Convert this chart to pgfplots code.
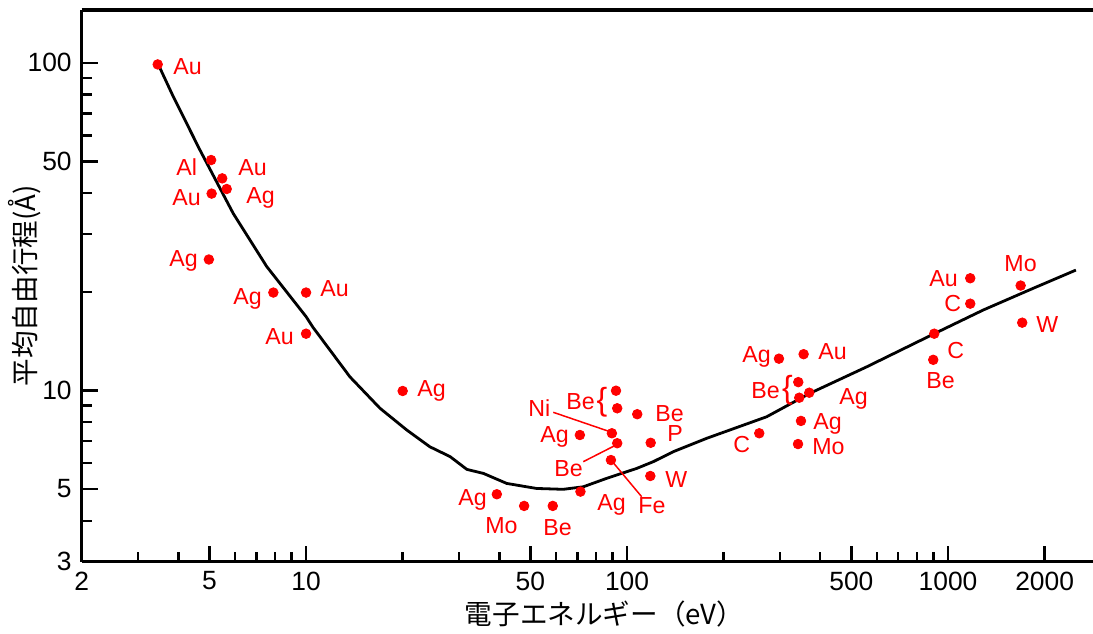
\documentclass[border=0pt]{standalone}
\usepackage{fontspec}
\setmainfont{Liberation Sans}
\newfontfamily\jp{Noto Sans CJK JP}
\usepackage{pgfplots}
\usepackage{pgfplotstable}
\pgfplotsset{compat=1.18}
\tikzset{lbl/.style={text=red, anchor=base west, inner sep=0pt, font=\fontsize{11.6}{12}\selectfont}}
\newcommand{\tl}[1]{\mbox{\fontsize{13.2}{14}\selectfont #1}}

\pgfplotstableread{
x y
3.45 98.9
5.06 50.5
5.48 44.4
5.66 41.2
5.08 39.9
4.98 25.1
7.91 19.9
10.0 19.9
10.0 14.9
20.0 9.96
92.4 9.98
93.2 8.82
107.6 8.46
89.7 7.40
71.3 7.31
93.2 6.90
118.5 6.92
89.1 6.13
118.2 5.48
71.6 4.91
39.3 4.82
47.8 4.44
58.7 4.44
297.4 12.5
355 12.9
341.6 10.6
344 9.50
369.6 9.84
348.3 8.07
341 6.86
258.2 7.40
906 14.9
899.5 12.4
1173 22.0
1173 18.4
1684 20.9
1703 16.1
}\dotdata

\pgfplotstableread{
x y
3.51 96.2
3.86 78.8
4.67 54.2
5.93 34.7
7.54 23.9
10.0 16.8
10.5 15.6
13.7 11.0
17.0 8.82
20.6 7.57
24.3 6.73
28.1 6.28
31.7 5.74
35.7 5.58
42.2 5.20
52.3 5.02
63.3 4.99
73.1 5.08
86.4 5.39
107.2 5.78
120.7 6.06
139.3 6.50
177.0 7.14
272.3 8.31
371.4 9.80
557.8 11.8
906 14.9
1287.6 17.6
1843 20.5
2503 23.3
}\curvedata

\begin{document}
\begin{tikzpicture}
\begin{loglogaxis}[
  scale only axis, width=505.65pt, height=275.85pt,
  xmin=2, xmax=2830, ymin=3, ymax=145,
  axis x line*=box, axis y line*=left,
  xtick pos=bottom, ytick pos=left,
  xtick={2,5,10,50,100,500,1000,2000},
  xticklabels={\tl{2},\tl{5},\tl{10},\tl{50},\tl{100},\tl{500},\tl{1000},\tl{2000}},
  minor xtick={3,4,6,7,8,9,20,30,40,60,70,80,90,200,300,400,600,700,800,900},
  ytick={3,5,10,50,100},
  yticklabels={\tl{3},\tl{5},\tl{10},\tl{50},\tl{100}},
  minor ytick={4,6,7,8,9,20,30,40,60,70,80,90},
  tick align=inside,
  major tick length=8pt, minor tick length=5pt,
  tick style={black, line width=1.2pt},
  axis line style={black, line width=1.6pt},
  /pgf/number format/assume math mode=true,
  yticklabel style={xshift=-1.5pt},
  xticklabel style={yshift=-1.5pt},
  xlabel={\jp 電子エネルギー（eV）},
  ylabel={\jp 平均自由行程(Å)},
  xlabel style={font=\fontsize{13.8}{14}\selectfont, at={(axis description cs:0.5,0)}, anchor=base, yshift=-31.5pt, xshift=8.5pt},
  ylabel style={font=\fontsize{13.8}{14}\selectfont, at={(axis description cs:-0.0561,0.5)}, anchor=center},
  clip=false,
]
\addplot[black, line width=1.4pt, no markers] table {\curvedata};
\addplot[only marks, mark=*, mark size=2.4pt, red, mark options={draw=red, fill=red}] table {\dotdata};

\node[lbl] at (rel axis cs:0.0903,0.8822) {Au};
\node[lbl] at (rel axis cs:0.0932,0.7009) {Al};
\node[lbl] at (rel axis cs:0.1546,0.7009) {Au};
\node[lbl] at (rel axis cs:0.0893,0.6465) {Au};
\node[lbl] at (rel axis cs:0.1625,0.6484) {Ag};
\node[lbl] at (rel axis cs:0.0863,0.5342) {Ag};
\node[lbl] at (rel axis cs:0.1496,0.4653) {Ag};
\node[lbl] at (rel axis cs:0.2356,0.4798) {Au};
\node[lbl] at (rel axis cs:0.1813,0.3928) {Au};
\node[lbl] at (rel axis cs:0.3316,0.3003) {Ag};
\node[lbl] at (rel axis cs:0.4789,0.2750) {Be};
\node[lbl] at (rel axis cs:0.4413,0.2623) {Ni};
\node[lbl] at (rel axis cs:0.5669,0.2550) {Be};
\node[lbl] at (rel axis cs:0.4532,0.2152) {Ag};
\node[lbl] at (rel axis cs:0.5788,0.2170) {P};
\node[lbl] at (rel axis cs:0.4670,0.1553) {Be};
\node[lbl] at (rel axis cs:0.5501,0.0865) {Fe};
\node[lbl] at (rel axis cs:0.5768,0.1336) {W};
\node[lbl] at (rel axis cs:0.5095,0.0937) {Ag};
\node[lbl] at (rel axis cs:0.3721,0.1010) {Ag};
\node[lbl] at (rel axis cs:0.3988,0.0520) {Mo};
\node[lbl] at (rel axis cs:0.4561,0.0466) {Be};
\node[lbl] at (rel axis cs:0.6529,0.3602) {Ag};
\node[lbl] at (rel axis cs:0.7281,0.3674) {Au};
\node[lbl] at (rel axis cs:0.6618,0.2967) {Be};
\node[lbl] at (rel axis cs:0.7488,0.2858) {Ag};
\node[lbl] at (rel axis cs:0.7231,0.2405) {Ag};
\node[lbl] at (rel axis cs:0.7221,0.1934) {Mo};
\node[lbl] at (rel axis cs:0.6440,0.1988) {C};
\node[lbl] at (rel axis cs:0.8378,0.4997) {Au};
\node[lbl] at (rel axis cs:0.8527,0.4526) {C};
\node[lbl] at (rel axis cs:0.9120,0.5269) {Mo};
\node[lbl] at (rel axis cs:0.9436,0.4163) {W};
\node[lbl] at (rel axis cs:0.8556,0.3692) {C};
\node[lbl] at (rel axis cs:0.8349,0.3148) {Be};

\node[text=red, inner sep=0pt, font=\fontsize{16}{16}\selectfont] at (rel axis cs:0.5145,0.2895) {\{};
\node[text=red, inner sep=0pt, font=\fontsize{16}{16}\selectfont] at (rel axis cs:0.6979,0.3112) {\{};

\draw[red, line width=0.75pt] (rel axis cs:0.4663,0.2708) -- (rel axis cs:0.5224,0.2356);
\draw[red, line width=0.75pt] (rel axis cs:0.4960,0.1813) -- (rel axis cs:0.5283,0.2115);
\draw[red, line width=0.75pt] (rel axis cs:0.5234,0.1843) -- (rel axis cs:0.5537,0.1178);

\coordinate (SW) at (rel axis cs:0,0);
\coordinate (NE) at (rel axis cs:1,1);
\end{loglogaxis}
\pgfresetboundingbox
\path[use as bounding box] ([xshift=-40.85pt,yshift=-35.65pt]SW) rectangle ([yshift=5pt]NE);
\end{tikzpicture}
\end{document}
